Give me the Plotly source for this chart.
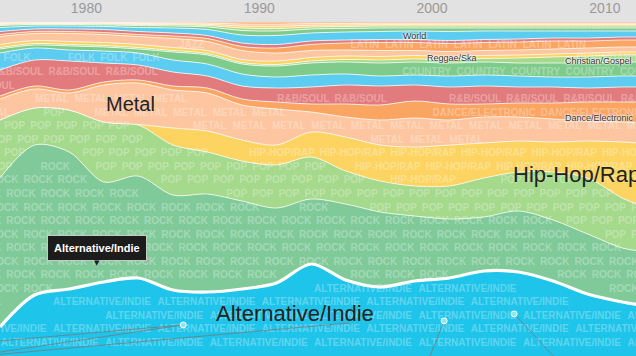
import numpy as np
import plotly.graph_objects as go

# ---------------- data (relative shares per year, normalised to 100 %) ----------------
years = [1975, 1977, 1979, 1981, 1983, 1985, 1987, 1989, 1991, 1993,
         1995, 1997, 1999, 2001, 2003, 2005, 2007, 2009, 2011, 2012]

alt_indie  = [29, 61, 67, 74, 78, 66, 64, 67, 73, 92, 76, 69, 75, 78, 85, 84, 75, 62, 54, 51]
rock       = [149, 150, 137, 100, 102, 95, 98, 88, 75, 65, 76, 75, 65, 59, 54, 61, 61, 60, 54, 54]
pop        = [58, 37, 42, 60, 51, 50, 42, 40, 43, 42, 33, 31, 30, 33, 39, 39, 48, 56, 50, 46]
hiphop     = [0, 0, 0, 0, 0.5, 17, 21, 21, 20, 25, 34, 36, 39, 41, 35, 31, 30, 37, 56, 62]
metal      = [21, 19, 17, 37, 41.5, 38, 38, 35, 36, 20, 20, 25, 29, 25, 26, 24, 23, 20, 20, 20]
dance      = [3, 3, 3, 3, 3, 4, 5, 6, 7, 8, 13, 15, 17, 16, 13, 14, 16, 19, 20, 21]
rnb        = [26, 26, 29, 19, 15, 14, 12, 13, 14, 17, 19, 19, 16, 17, 18, 16, 16, 14, 15, 15]
folk       = [17, 12, 11, 12, 12, 12, 12, 12, 11, 12, 11, 10, 10, 11, 11, 11, 10, 11, 11, 11]
country    = [4, 3, 4, 4, 4, 8, 9, 10, 11, 12, 12, 13, 13, 13, 13, 13, 14, 14, 14, 14]
christian  = [1.5, 1.5, 1.5, 1.5, 1.5, 1.5, 1.5, 1.5, 1.5, 2, 2.5, 3, 3, 3, 3.5, 5, 6, 7, 7, 7]
reggae     = [3, 3, 3, 3, 3, 3, 3, 3, 3.5, 3.5, 3.5, 3.5, 3.5, 3.5, 3, 3, 3, 3, 3, 3]
jazz       = [8, 7, 8, 8, 8, 9, 9, 9, 8, 7, 6, 6, 5, 5, 5, 5, 5, 5, 5, 5]
latin      = [2, 2, 2, 2, 2, 2.5, 3, 4, 5, 6, 7, 8, 8, 8, 8, 8, 8, 7, 7, 7]
blues      = [3, 2.5, 2.5, 3, 3, 3, 3, 3.5, 3.5, 3.5, 3, 3, 3, 3, 3, 3, 3, 3, 3, 3]
world      = [4, 3, 3, 3, 4, 5, 6, 8, 9, 8, 8, 8, 8.5, 9, 8.5, 8, 7, 7, 6, 6]
classical  = [2, 1.5, 1.5, 1.5, 2, 2, 2.5, 4.5, 4.5, 4, 3.5, 3.5, 3, 3.5, 3, 3, 3, 3, 3, 3]
soundtrack = [1, 0.8, 0.8, 1, 1, 1.2, 1.5, 2.5, 2.5, 2, 2, 2, 2, 2, 2, 2, 2, 2, 2, 2]
new_age    = [1, 0.6, 0.6, 0.7, 1, 1, 1.2, 2, 2.2, 1.8, 1.5, 1.4, 1.4, 1.4, 1.4, 1.4, 1.4, 1.4, 1.4, 1.4]
easy       = [0.8, 0.6, 0.6, 0.7, 0.8, 0.9, 1.2, 2, 2.2, 1.6, 1.5, 1.3, 1.3, 1.3, 1.3, 1.3, 1.3, 1.3, 1.3, 1.3]
children   = [0.7, 0.5, 0.5, 0.6, 0.7, 0.9, 1.1, 2, 2.1, 1.6, 1.5, 1.3, 1.3, 1.3, 1.3, 1.3, 1.3, 1.3, 1.3, 1.3]

genre_names = ["Alternative/Indie", "Rock", "Pop", "Hip-Hop/Rap", "Metal", "Dance/Electronic",
               "R&B/Soul", "Folk", "Country", "Christian/Gospel", "Reggae/Ska", "Jazz", "Latin",
               "Blues", "World", "Classical", "Soundtrack", "New Age", "Easy Listening", "Children's"]
pattern_words = ["ALTERNATIVE/INDIE", "ROCK", "POP", "HIP-HOP/RAP", "METAL", "DANCE/ELECTRONIC",
                 "R&B/SOUL", "FOLK", "COUNTRY", "CHRISTIAN/GOSPEL", "REGGAE/SKA", "JAZZ", "LATIN",
                 "BLUES", "WORLD", "CLASSICAL", "SOUNDTRACK", "NEW AGE", "EASY LISTENING", "CHILDREN'S"]
series = [alt_indie, rock, pop, hiphop, metal, dance, rnb, folk, country, christian, reggae,
          jazz, latin, blues, world, classical, soundtrack, new_age, easy, children]

tick_years = [1980, 1990, 2000, 2010]
tick_labels = ["1980", "1990", "2000", "2010"]

# milestone markers and their leader lines
event_years = [1985.6, 2000.7, 2004.75]
event_vals = [9.3, 10.5, 12.6]
leader_x = [[1985.6, 1975.0], [1985.6, 1975.0], [1975.0, 1995.2], [2000.7, 1999.8], [2004.75, 2007.2]]
leader_y = [[9.3, 4.5], [9.3, 1.2], [0.5, 9.9], [10.5, -1.0], [12.6, -1.0]]

# ---------------- styles ----------------
CYAN_A, CYAN = "#1ec4e9", "#5ccdf0"
GREEN, LGREEN, YELLOW, PEACH, ORANGE, RED = "#80ca99", "#a5d98b", "#fdd462", "#fdc6a0", "#fba562", "#e27b7d"
colors = [CYAN_A, GREEN, LGREEN, YELLOW, PEACH, ORANGE, RED,
          CYAN, "#7fcb8c", LGREEN, YELLOW, PEACH, ORANGE, RED,
          CYAN, "#7fcb8c", LGREEN, YELLOW, PEACH, ORANGE]

W, H, TOP = 636, 356, 22
X0, X1 = 1975.0, 2011.8

fig = go.Figure()
for i, (name, vals, col) in enumerate(zip(genre_names, series, colors)):
    lw = 3.2 if i == 0 else 1
    lc = "white" if i == 0 else "rgba(255,255,255,0.75)"
    fig.add_trace(go.Scatter(
        x=years, y=vals, name=name, stackgroup="g", groupnorm="percent" if i == 0 else None,
        mode="lines", line=dict(color=lc, width=lw, shape="spline", smoothing=0.9),
        fillcolor=col, hoverinfo="skip"))

# ---------------- repeated genre words inside each band ----------------
arr = np.array(series, dtype=float)
tot = arr.sum(axis=0)
upper = np.cumsum(arr, axis=0) / tot * 100
lower = upper - arr / tot * 100
yrs = np.array(years, dtype=float)

CW = {'A': .722, 'B': .722, 'C': .722, 'D': .722, 'E': .667, 'F': .611, 'G': .778, 'H': .722,
      'I': .278, 'J': .556, 'K': .722, 'L': .611, 'M': .833, 'N': .722, 'O': .778, 'P': .667,
      'Q': .778, 'R': .722, 'S': .667, 'T': .611, 'U': .722, 'V': .667, 'W': .944, 'X': .667,
      'Y': .667, 'Z': .611, '/': .278, '&': .722, '-': .333, ' ': .278, "'": .238}
FS = 10


def v2p(v):
    return TOP + (100 - v) * (H - TOP) / 100


def p2yr(px):
    return X0 + px * (X1 - X0) / W


def p2v(py):
    return 100 - (py - TOP) * 100 / (H - TOP)


rows_py = [343.5 - 13.55 * j for j in range(25)]
wx, wy, wt = [], [], []
for i, word in enumerate(pattern_words):
    ww = sum(CW.get(c, .667) for c in word) * FS
    step = ww + 5
    for j, ry in enumerate(rows_py):
        cx = -((j % 2) * step / 2) - (i * 11) % step + ww / 2
        while cx - ww / 2 < W:
            ok = True
            for sx in (cx - ww / 2 + 3, cx, cx + ww / 2 - 3):
                yr = p2yr(min(max(sx, 0), W))
                top_p = v2p(np.interp(yr, yrs, upper[i]))
                bot_p = v2p(np.interp(yr, yrs, lower[i]))
                if not (top_p + 1.8 <= ry <= bot_p - 1.8):
                    ok = False
                    break
            if ok:
                wx.append(p2yr(cx))
                wy.append(p2v(ry))
                wt.append(word)
            cx += step

fig.add_trace(go.Scatter(
    x=wx, y=wy, text=wt, mode="text", hoverinfo="skip", cliponaxis=True,
    textfont=dict(family="Arial", size=FS, color="rgba(255,255,255,0.30)", weight="bold")))

# leader lines and milestone dots
for lx, ly in zip(leader_x, leader_y):
    fig.add_trace(go.Scatter(x=lx, y=ly, mode="lines", hoverinfo="skip",
                             line=dict(color="rgba(120,120,120,0.75)", width=1)))
fig.add_trace(go.Scatter(x=event_years, y=event_vals, mode="markers", hoverinfo="skip",
                         marker=dict(size=6, color="#8fe6f4", line=dict(color="white", width=1))))

# ---------------- labels ----------------
big = dict(family="Arial", size=22, color="#222222")
small = dict(family="Arial", size=9, color="#333333", shadow="0 0 2px #fff, 0 0 2px #fff, 0 0 3px #fff")
labels = [
    ("Metal", 104, 104, dict(big, size=20)),
    ("Hip-Hop/Rap", 511, 174, big),
    ("Alternative/Indie", 214, 313, big),
    ("World", 401, 36, small),
    ("Reggae/Ska", 425, 58, small),
    ("Christian/Gospel", 563, 61, small),
    ("Dance/Electronic", 563, 118, small),
]
for txt, px, py, f in labels:
    fig.add_annotation(x=p2yr(px), y=p2v(py), text=txt, showarrow=False, xanchor="left",
                       yanchor="middle", font=f)

# tooltip
fig.add_annotation(x=p2yr(96.5), y=p2v(247.5), text="<b>Alternative/Indie</b>", showarrow=False,
                   font=dict(family="Arial", size=11, color="white"), bgcolor="#1c1c1c",
                   bordercolor="#c8c8c8", borderwidth=1, borderpad=6, xanchor="center",
                   yanchor="middle")
fig.add_annotation(x=p2yr(97), y=p2v(263), text="▼", showarrow=False,
                   font=dict(family="DejaVu Sans", size=7, color="#1c1c1c"))

fig.update_layout(
    width=W, height=H, margin=dict(l=0, r=0, t=TOP, b=0, pad=0, autoexpand=False),
    paper_bgcolor="#e2e2e2", plot_bgcolor="#e2e2e2", showlegend=False,
    xaxis=dict(range=[X0, X1], side="top", tickvals=tick_years, ticktext=tick_labels,
               tickfont=dict(family="Arial", size=14, color="#9a9a9a"), showgrid=False,
               zeroline=False, showline=False, ticks="", fixedrange=True, automargin=False,
               ticklabelstandoff=5),
    yaxis=dict(range=[0, 100], visible=False, fixedrange=True, automargin=False),
)

fig.write_html("out.html", config={"displayModeBar": False},
               post_script="document.body.style.margin='0';document.body.style.overflow='hidden';")
